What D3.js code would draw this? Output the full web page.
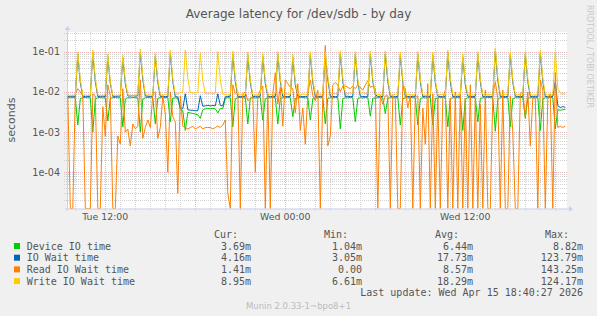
<!DOCTYPE html>
<html><head><meta charset="utf-8">
<script src="https://cdn.jsdelivr.net/npm/d3@7"></script>
<style>body{margin:0;background:#f0f0f0}svg{display:block}</style>
</head><body>
<script>
// ---- data (values in milliseconds, sampled every 10 minutes from Tue 09:30) ----
const startTime = Date.UTC(2026, 3, 14, 9, 30);
const stepMinutes = 10;

const deviceIO = [
7.2,7.1,7.3,7.2,1.5,6.8,7.2,7.3,7.1,7.2,
1.0,6.5,7.2,7.3,7.1,7.2,1.9,6.9,7.2,7.3,
7.1,7.2,1.35,6.7,7.2,7.1,7.3,7.2,7.1,1.0,
6.6,7.2,7.3,7.1,7.2,1.6,6.9,7.2,7.1,7.3,
7.2,1.8,7.0,7.1,7.0,3.7,3.4,1.1,3.1,3.0,
2.9,2.8,2.7,2.2,3.6,3.8,3.9,3.8,3.9,3.8,
3.0,3.9,3.8,7.0,7.2,7.1,1.35,6.8,7.2,7.3,
7.1,7.2,1.6,6.9,7.2,7.1,7.3,7.2,2.0,6.8,
7.2,7.1,7.3,7.2,1.6,6.9,7.2,7.1,7.3,7.2,
2.4,6.9,7.1,7.2,7.3,7.1,7.2,2.0,6.8,7.2,
7.1,7.3,7.2,1.6,6.9,7.2,7.1,7.3,7.2,1.2,
6.8,7.2,7.1,7.3,7.2,1.8,6.9,7.2,7.1,7.3,
7.2,2.5,6.9,7.1,7.2,7.3,7.1,2.9,6.8,7.2,
7.1,7.3,7.2,1.5,6.7,7.2,7.1,7.3,7.2,7.1,
1.5,6.8,7.2,7.1,7.3,7.2,1.5,6.9,7.1,7.2,
7.3,7.1,1.35,6.8,7.2,7.1,7.3,7.2,1.1,6.7,
7.2,7.1,7.3,7.2,1.8,6.9,7.2,7.1,7.3,7.2,
7.1,1.05,6.6,7.2,7.1,7.3,7.2,1.35,6.8,7.2,
7.1,7.3,7.2,2.2,6.9,7.2,7.1,7.3,7.2,1.1,
6.7,7.2,7.1,7.3,7.2,1.2,3.6,3.5,3.6,3.69];

const ioWait = [
7.7,7.6,7.8,7.7,85,17,7.8,7.6,7.7,7.8,
94,18,7.7,7.6,7.8,7.7,75,16,7.8,7.7,
7.8,7.9,70,16,8.0,7.9,8.1,7.9,8.0,99,
20,7.9,7.8,7.7,7.8,77,17,7.7,7.8,7.6,
7.7,94,18,7.6,7.5,4.0,3.8,9,3.6,3.5,
3.5,3.4,3.4,8,4.4,4.5,4.6,4.5,4.6,4.5,
9,4.6,4.5,7.5,7.7,7.8,88,18,7.7,7.6,
7.8,7.7,82,17,7.6,7.8,7.7,7.8,77,16,
7.7,7.6,7.8,7.7,85,18,7.8,7.7,7.6,7.8,
72,15,7.7,7.8,7.6,7.7,7.8,85,17,7.7,
7.6,7.8,7.7,85,20,7.8,7.7,7.6,7.8,90,
18,7.7,7.8,7.6,7.7,85,17,7.8,7.7,7.6,
7.8,88,18,8.5,7.7,7.8,7.6,89,18,7.7,
7.8,7.6,7.7,82,17,7.8,7.7,7.6,7.8,7.7,
85,18,7.6,7.8,7.7,7.6,82,17,7.8,7.7,
7.6,7.8,94,18,7.7,7.6,7.8,7.7,74,15,
7.8,7.7,7.6,7.8,85,18,7.7,7.6,7.8,7.7,
7.6,105,19,7.7,7.8,7.6,7.7,85,17,7.8,
7.7,7.6,7.8,85,18,7.7,7.6,7.8,7.7,94,
18,7.7,7.6,7.8,7.7,18,4.5,4.1,4.3,4.16];

const readWait = [
7.6,0,0,9,12,10,8,0,0,0,
9,8,0,0,4.3,0.8,15,8,0,0,
0.8,0.5,12,1.0,1.2,0.45,1.6,1.2,1.4,20,
0.7,1.3,2.0,1.3,9,10,0.7,1.3,8,2.8,
0.1,10,2.4,1.8,0.03,8,1.4,1.3,1.2,1.3,
1.4,1.2,1.3,1.4,1.2,1.3,1.3,1.3,1.2,1.3,
1.4,1.3,1.5,2.0,0.03,0,15,9,10,0,
9,10,6,7,7.6,0.1,8,11,14,0,
9,0,9,30,5,13,1.4,20,16,13,
12,3,16,1.1,4,0.5,9,20,8,6,
11,0,9,143,0.45,0.8,15,17,15,10,
14,14,13,12,14,12,15,13,11,15,
19,13,14,12,0,8,5,8,8,0,
8,7,0,0,15,12,4,8,0,7,
8,0,4,0.5,16,0,9,0,7,0,
7,11,0,7,0,10,0,10,0,7,
0,15,0,7,0,5,0,11,0,0,
8,18,7,0,11,0,0,8,1.0,0,
0,9,10,2.4,10,0.45,7,7,0,20,
11,0,7,9,0,30,1.3,1.4,1.3,1.41];

const writeWait = [
8.2,8.0,8.1,8.3,100,20,8.4,8.0,8.2,8.1,
110,22,8.3,8.0,8.1,8.4,88,18,8.2,8.0,
8.1,8.3,83,19,8.4,8.2,8.0,8.3,8.5,117,
24,8.6,8.3,8.4,8.2,91,20,8.5,8.3,8.6,
8.4,110,21,8.8,9.0,9.6,9.8,110,22,9.7,
9.4,9.5,9.8,93,19,9.3,9.2,9.4,9.0,9.3,
100,20,9.0,8.5,8.3,8.6,104,22,8.7,8.4,
8.6,8.8,97,20,8.5,8.3,8.6,8.9,90,19,
8.7,8.4,8.8,9.0,100,21,8.9,9.2,8.8,8.6,
85,18,8.7,8.5,8.9,8.6,8.4,100,20,8.8,
9.0,8.7,8.9,100,24,9.1,9.3,9.0,9.2,106,
22,9.3,9.0,9.4,9.1,100,20,9.2,9.5,9.1,
9.3,104,21,9.0,8.6,8.4,8.7,105,22,8.5,
8.3,8.6,8.4,97,20,8.5,8.7,8.3,8.6,8.4,
100,21,8.5,8.2,8.6,8.4,97,20,8.3,8.5,
8.7,8.4,110,22,8.6,8.3,8.5,8.7,87,18,
8.4,8.6,8.3,8.5,100,21,8.6,8.4,8.7,8.5,
8.3,124,23,8.6,8.4,8.7,8.5,100,20,8.6,
8.4,8.7,8.5,100,21,8.6,8.3,8.5,8.7,110,
22,8.6,8.4,8.5,8.7,100,12,9.5,9.0,8.95];

const seriesNames = ["Device IO time", "IO Wait time", "Read IO Wait time", "Write IO Wait time"];
const seriesColors = ["#00cc00", "#0066b3", "#ff8000", "#ffcc00"];
const seriesData = [deviceIO, ioWait, readWait, writeWait];
const legendHeaders = ["Cur:", "Min:", "Avg:", "Max:"];
const curValues = ["3.69m", "4.16m", "1.41m", "8.95m"];
const minValues = ["1.04m", "3.05m", "0.00", "6.61m"];
const avgValues = ["6.44m", "17.73m", "8.57m", "18.29m"];
const maxValues = ["8.82m", "123.79m", "143.25m", "124.17m"];
const yTickValues = [1e-4, 1e-3, 1e-2, 1e-1];
const yTickLabels = ["1e-04", "1e-03", "1e-02", "1e-01"];
const xTickTimes = [Date.UTC(2026,3,14,12), Date.UTC(2026,3,15,0), Date.UTC(2026,3,15,12)];
const titleText = "Average latency for /dev/sdb - by day";
const yLabel = "seconds";
const lastUpdate = "Last update: Wed Apr 15 18:40:27 2026";
const versionText = "Munin 2.0.33-1~bpo8+1";
const sideText = "RRDTOOL / TOBI OETIKER";

// ---- layout ----
const W = 597, H = 316;
const L = 67, R = 567, T = 32, B = 208.5;
const svg = d3.select("body").append("svg").attr("width", W).attr("height", H);
svg.append("rect").attr("width", W).attr("height", H).attr("fill", "#f0f0f0");
svg.append("rect").attr("x", L).attr("y", T).attr("width", R - L).attr("height", B - T).attr("fill", "#fff");

const x = d3.scaleUtc()
  .domain([Date.UTC(2026,3,14,9,26,48), Date.UTC(2026,3,15,18,46,48)])
  .range([L, R]);
const yMin = Math.pow(10, -4.9), yMax = Math.pow(10, -0.51);
const y = d3.scaleLog().domain([yMin, yMax]).range([B, T]);

// grid
const gridMinor = "#d2d2d2", gridMajor = "#eab4b4";
const grid = svg.append("g");
const hours = d3.utcHour.range(x.domain()[0], x.domain()[1]);
hours.forEach(h => {
  const major = h.getUTCHours() % 6 === 0;
  const px = Math.round(x(h)) + 0.5;
  grid.append("line").attr("x1", px).attr("x2", px).attr("y1", T).attr("y2", B + 2)
    .attr("stroke", major ? gridMajor : gridMinor).attr("stroke-dasharray", "1,1");
});
for (let k = -5; k <= -1; k++) {
  for (let m = 1; m <= 9; m++) {
    const v = m * Math.pow(10, k);
    if (v < yMin || v > yMax) continue;
    const py = Math.round(y(v)) + 0.5;
    grid.append("line").attr("x1", L - 3).attr("x2", R).attr("y1", py).attr("y2", py)
      .attr("stroke", m === 1 ? gridMajor : gridMinor).attr("stroke-dasharray", "1,1");
  }
}

// axes
const axisColor = "#c9d0f2";
svg.append("line").attr("x1", L + 0.5).attr("x2", L + 0.5).attr("y1", B + 2).attr("y2", T - 3).attr("stroke", axisColor);
svg.append("line").attr("x1", L - 2).attr("x2", R + 3).attr("y1", B + 0.5).attr("y2", B + 0.5).attr("stroke", axisColor);
svg.append("path").attr("d", `M${L - 2.5},${T - 2} L${L + 0.5},${T - 6} L${L + 3.5},${T - 2} Z`).attr("fill", axisColor);
svg.append("path").attr("d", `M${R + 2},${B - 2.5} L${R + 6},${B + 0.5} L${R + 2},${B + 3.5} Z`).attr("fill", axisColor);

// series
svg.append("clipPath").attr("id", "pc").append("rect")
  .attr("x", L).attr("y", T - 1).attr("width", R - L).attr("height", B - T + 1);
const line = d3.line()
  .x((d, i) => x(startTime + i * stepMinutes * 60000))
  .y(d => y(Math.max(d / 1000, yMin)));
const lines = svg.append("g").attr("clip-path", "url(#pc)");
seriesData.forEach((s, k) => {
  lines.append("path").datum(s).attr("d", line).attr("fill", "none")
    .attr("stroke", seriesColors[k]).attr("stroke-width", 1).attr("stroke-linejoin", "round");
});

// axis labels
const sans = "'DejaVu Sans', sans-serif", mono = "'DejaVu Sans Mono', monospace";
const textCol = "#555";
yTickValues.forEach((v, i) => {
  svg.append("text").attr("x", 60).attr("y", y(v) + 3.5).attr("text-anchor", "end")
    .attr("font-family", sans).attr("font-size", 9.6).attr("fill", textCol).text(yTickLabels[i]);
});
const fmt = d3.utcFormat("%a %H:%M");
xTickTimes.forEach(t => {
  svg.append("text").attr("x", x(t)).attr("y", 220).attr("text-anchor", "middle")
    .attr("font-family", sans).attr("font-size", 9.4).attr("fill", textCol).text(fmt(t));
});

svg.append("text").attr("x", 298.5).attr("y", 18).attr("text-anchor", "middle")
  .attr("font-family", sans).attr("font-size", 12).attr("fill", textCol).text(titleText);
svg.append("text").attr("transform", "translate(15,120) rotate(-90)").attr("text-anchor", "middle")
  .attr("font-family", sans).attr("font-size", 11).attr("fill", textCol).text(yLabel);
svg.append("text").attr("transform", "translate(587,5) rotate(90)").attr("text-anchor", "start")
  .attr("font-family", sans).attr("font-size", 8).attr("fill", "#c8c8c8").text(sideText);

// legend
const colRight = [238, 348, 459, 569];
const valRight = [251, 362, 473, 583];
const headerY = 237.8, rowY0 = 249.5, rowStep = 11.7;
legendHeaders.forEach((h, j) => {
  svg.append("text").attr("x", colRight[j]).attr("y", headerY).attr("text-anchor", "end")
    .attr("font-family", mono).attr("font-size", 10).attr("fill", textCol).text(h);
});
const cols = [curValues, minValues, avgValues, maxValues];
seriesNames.forEach((n, i) => {
  const by = rowY0 + i * rowStep;
  svg.append("rect").attr("x", 14).attr("y", by - 6.5).attr("width", 6).attr("height", 6).attr("fill", seriesColors[i]);
  svg.append("text").attr("x", 26.7).attr("y", by).attr("font-family", mono).attr("font-size", 10)
    .attr("fill", textCol).text(n);
  cols.forEach((c, j) => {
    svg.append("text").attr("x", valRight[j]).attr("y", by).attr("text-anchor", "end")
      .attr("font-family", mono).attr("font-size", 10).attr("fill", textCol).text(c[i]);
  });
});
svg.append("text").attr("x", 583).attr("y", rowY0 + 4 * rowStep).attr("text-anchor", "end")
  .attr("font-family", mono).attr("font-size", 10).attr("fill", textCol).text(lastUpdate);
svg.append("text").attr("x", 298.5).attr("y", 309).attr("text-anchor", "middle")
  .attr("font-family", sans).attr("font-size", 8.5).attr("fill", "#bbbbbb").text(versionText);
</script>
</body></html>
